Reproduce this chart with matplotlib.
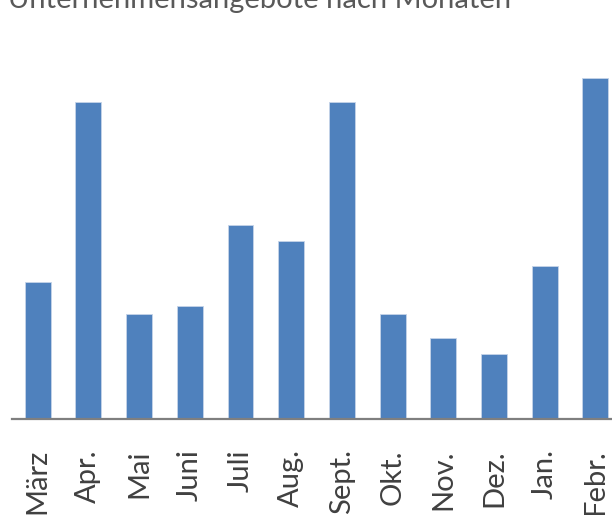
import matplotlib
matplotlib.use("Agg")
import matplotlib.pyplot as plt

title = "Unternehmensangebote nach Monaten"
months = ["März", "Apr.", "Mai", "Juni", "Juli", "Aug.", "Sept.", "Okt.", "Nov.", "Dez.", "Jan.", "Febr."]
values = [17, 39.6, 13, 14, 24.2, 22.2, 39.6, 13, 10, 8, 19, 42.5]

bar_color = "#4F81BD"
W, H = 612, 515
fig = plt.figure(figsize=(W / 100, H / 100), dpi=100)

# axes: x-range -0.5..11.5 spans 608.4 px starting at x=12.35 (right side runs off the figure)
left_px, base_px, top_px, width_px = 12.35, 418.5, 60, 608.4
ax = fig.add_axes([left_px / W, (H - base_px) / H, width_px / W, (base_px - top_px) / H])

x = list(range(len(months)))
ax.bar(x, values, width=0.51, color=bar_color, edgecolor="#C6D4E8", linewidth=0.6, zorder=2)
ax.set_xlim(-0.5, len(months) - 0.5)
ax.set_ylim(0, 44.8)

for s in ["top", "right", "left"]:
    ax.spines[s].set_visible(False)
ax.spines["bottom"].set_color("#7F7F7F")
ax.spines["bottom"].set_linewidth(1.6)
ax.spines["bottom"].set_zorder(3)
ax.set_yticks([])
ax.set_xticks(x)
ax.set_xticklabels(months, rotation=90, fontsize=21, color="#404040", family=["Lato", "DejaVu Sans"])
ax.tick_params(axis="x", length=0, pad=22)

fig.text(8 / W, 1 - 8 / H, title, fontsize=21, color="#595959", family=["Lato", "DejaVu Sans"],
         ha="left", va="baseline")

fig.savefig("out.png", dpi=100)
